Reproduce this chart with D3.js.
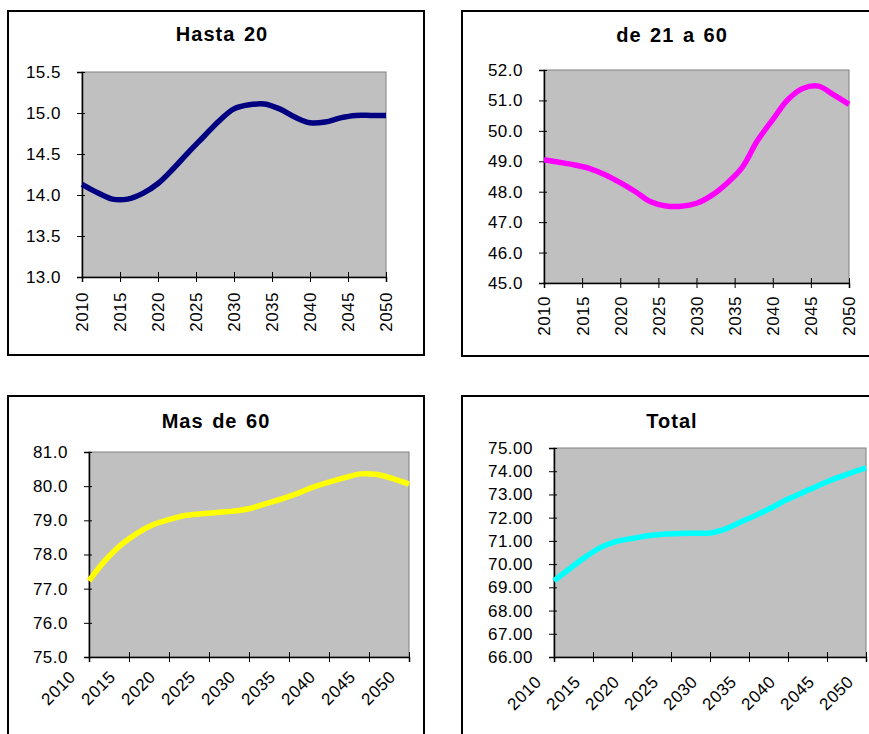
<!DOCTYPE html>
<html>
<head>
<meta charset="utf-8">
<script src="https://cdn.jsdelivr.net/npm/d3@7"></script>
<style>
  html, body { margin: 0; padding: 0; background: #ffffff; }
  svg { display: block; }
  text { font-family: "Liberation Sans", Arial, sans-serif; fill: #000; }
</style>
</head>
<body>
<svg id="chart" width="869" height="734"></svg>
<script>
// Population share by age group, 2010–2050
const years = [2010, 2012, 2014, 2016, 2018, 2020, 2022, 2024, 2026, 2028, 2030,
               2032, 2034, 2036, 2038, 2040, 2042, 2044, 2046, 2048, 2050];

const hasta20 = [14.13, 14.03, 13.95, 13.95, 14.02, 14.14, 14.32, 14.52, 14.71, 14.90, 15.05,
                 15.10, 15.11, 15.05, 14.95, 14.88, 14.89, 14.94, 14.97, 14.97, 14.97];

const de21a60 = [49.05, 48.97, 48.88, 48.76, 48.56, 48.30, 48.00, 47.67, 47.53, 47.52, 47.62,
                 47.88, 48.28, 48.80, 49.68, 50.37, 51.03, 51.40, 51.47, 51.18, 50.87];

const masDe60 = [77.23, 77.82, 78.28, 78.62, 78.87, 79.02, 79.14, 79.19, 79.23, 79.27, 79.34,
                 79.48, 79.62, 79.78, 79.97, 80.12, 80.25, 80.36, 80.34, 80.22, 80.06];

const total = [69.28, 69.80, 70.30, 70.72, 70.98, 71.10, 71.22, 71.29, 71.32, 71.33, 71.34,
               71.52, 71.82, 72.12, 72.45, 72.80, 73.10, 73.40, 73.68, 73.92, 74.14];

const yearTicks = [2010, 2015, 2020, 2025, 2030, 2035, 2040, 2045, 2050];

const hastaTicks = [13.0, 13.5, 14.0, 14.5, 15.0, 15.5];
const de21Ticks  = [45, 46, 47, 48, 49, 50, 51, 52];
const masTicks   = [75, 76, 77, 78, 79, 80, 81];
const totalTicks = [66, 67, 68, 69, 70, 71, 72, 73, 74, 75];

const titles = ["Hasta 20", "de 21 a 60", "Mas de 60", "Total"];

const panels = [
  { title: titles[0], values: hasta20, ticks: hastaTicks, decimals: 1, color: "#000080",
    frame: { x: 8, y: 11, w: 416, h: 344 }, plot: { x: 82, y: 72, w: 304, h: 205 },
    titleAt: [222, 41], rotate: -90, labelOff: [0, 15] },
  { title: titles[1], values: de21a60, ticks: de21Ticks, decimals: 1, color: "#ff00ff",
    frame: { x: 462, y: 11, w: 430, h: 345 }, plot: { x: 544, y: 70, w: 305, h: 213 },
    titleAt: [672, 42], rotate: -90, labelOff: [0, 13] },
  { title: titles[2], values: masDe60, ticks: masTicks, decimals: 1, color: "#ffff00",
    frame: { x: 8, y: 396, w: 416, h: 400 }, plot: { x: 89, y: 452, w: 320, h: 205 },
    titleAt: [216, 428], rotate: -45, labelOff: [-13, 21] },
  { title: titles[3], values: total, ticks: totalTicks, decimals: 2, color: "#00ffff",
    frame: { x: 462, y: 396, w: 430, h: 400 }, plot: { x: 554, y: 448, w: 312, h: 209 },
    titleAt: [672, 428], rotate: -45, labelOff: [-12, 26] }
];

const svg = d3.select("#chart");

panels.forEach(p => {
  const g = svg.append("g");

  // outer chart frame
  g.append("rect")
    .attr("x", p.frame.x).attr("y", p.frame.y)
    .attr("width", p.frame.w).attr("height", p.frame.h)
    .attr("fill", "#ffffff").attr("stroke", "#000").attr("stroke-width", 2);

  // title
  g.append("text")
    .attr("x", p.titleAt[0]).attr("y", p.titleAt[1])
    .attr("text-anchor", "middle")
    .style("font-size", "20px").style("font-weight", "bold")
    .style("letter-spacing", "1px").style("word-spacing", "2px")
    .text(p.title);

  const x = d3.scaleLinear().domain([2010, 2050]).range([p.plot.x, p.plot.x + p.plot.w]);
  const y = d3.scaleLinear().domain(d3.extent(p.ticks)).range([p.plot.y + p.plot.h, p.plot.y]);

  // plot area
  g.append("rect")
    .attr("x", p.plot.x).attr("y", p.plot.y)
    .attr("width", p.plot.w).attr("height", p.plot.h)
    .attr("fill", "#c0c0c0").attr("stroke", "#808080").attr("stroke-width", 1);

  // y axis
  const yAxis = g.append("g")
    .attr("transform", `translate(${p.plot.x},0)`)
    .call(d3.axisLeft(y).tickValues(p.ticks).tickSize(5).tickPadding(16)
      .tickFormat(d3.format(`.${p.decimals}f`)));
  yAxis.select(".domain").attr("stroke", "#000").attr("stroke-width", 1.5);
  yAxis.selectAll(".tick line").attr("x1", 3).attr("x2", -5).attr("stroke", "#000");
  yAxis.selectAll(".tick text")
    .attr("x", -21)
    .style("font-family", "'Liberation Sans', Arial, sans-serif")
    .style("font-size", "17px").style("letter-spacing", "0.5px")
    .attr("fill", "#000");

  // x axis
  const base = p.plot.y + p.plot.h;
  const xAxis = g.append("g")
    .attr("transform", `translate(0,${base})`)
    .call(d3.axisBottom(x).tickValues(yearTicks).tickSize(5).tickFormat(d3.format("d")));
  xAxis.select(".domain").attr("stroke", "#000").attr("stroke-width", 1.5);
  xAxis.selectAll(".tick line").attr("y1", -5).attr("y2", 5).attr("stroke", "#000");
  const xt = xAxis.selectAll(".tick text")
    .style("font-family", "'Liberation Sans', Arial, sans-serif")
    .style("font-size", "17px").style("letter-spacing", "0.5px")
    .attr("fill", "#000")
    .attr("text-anchor", "end");
  if (p.rotate === -90) {
    xt.attr("y", 0).attr("dy", "0.35em")
      .attr("transform", `translate(${p.labelOff[0]},${p.labelOff[1]}) rotate(-90)`)
      .attr("x", 0);
  } else {
    xt.attr("y", 0).attr("dy", 0).attr("x", 0)
      .attr("transform", `translate(${p.labelOff[0]},${p.labelOff[1]}) rotate(-45)`);
  }

  // series line (smoothed)
  const line = d3.line()
    .x((d, i) => x(years[i]))
    .y(d => y(d))
    .curve(d3.curveCatmullRom.alpha(0.5));
  g.append("path")
    .datum(p.values)
    .attr("d", line)
    .attr("fill", "none")
    .attr("stroke", p.color)
    .attr("stroke-width", 5.5)
    .attr("stroke-linejoin", "round");
});
</script>
</body>
</html>
